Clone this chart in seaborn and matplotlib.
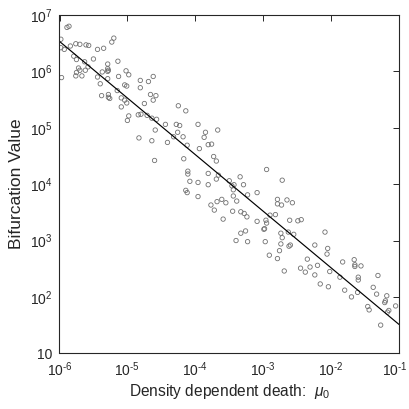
import numpy as np
import pandas as pd
import matplotlib
matplotlib.use("Agg")
import matplotlib.pyplot as plt
import matplotlib.transforms as mtransforms
import seaborn as sns
from matplotlib.ticker import FixedLocator, FuncFormatter, NullLocator

# log10 of density dependent death (mu_0)
log_mu = [
    -5.89, -5.86, -5.98, -5.98, -5.93, -5.97, -5.84, -5.76, -5.70, -5.61, -5.57,
    -5.79, -5.75, -5.63, -5.58, -5.75, -5.72, -5.70, -5.67, -5.62, -5.76,
    -5.50, -5.44, -5.35, -5.23, -5.20, -5.14, -5.29, -5.29, -5.28, -5.29,
    -5.37, -5.44, -5.40, -5.29, -5.38, -5.28, -5.28, -5.26, -5.13, -5.02,
    -4.98, -5.04, -5.01, -5.09, -5.09, -5.04, -5.01, -5.15, -4.81, -4.81,
    -4.69, -4.62, -4.66, -4.62, -4.58, -4.75, -4.98, -5.00, -4.84, -4.80,
    -4.71, -4.64, -4.57, -4.44, -4.59, -4.83, -4.64,
    -4.25, -4.14, -4.28, -4.23, -3.96, -4.26, -4.18, -4.32, -3.85, -3.87,
    -3.67, -4.41, -4.12, -3.94, -3.81, -3.76, -4.60, -4.17, -3.73, -3.69,
    -4.11, -4.11, -3.81, -3.66, -3.69, -4.08, -3.96, -3.81, -3.50, -3.46,
    -3.43, -3.44, -3.34, -3.29, -2.95, -4.14, -4.12, -3.96,
    -3.77, -3.72, -3.68, -3.61, -3.55, -3.59, -3.44, -3.39, -3.23, -3.09,
    -2.72, -3.45, -3.33, -3.28, -3.24, -3.09, -2.96, -2.95, -2.99, -2.98,
    -2.90, -2.82, -2.79, -2.79, -2.73, -2.65, -2.57, -2.61, -2.49, -2.44,
    -3.26, -3.33, -3.40, -3.23, -2.97, -2.74, -2.72, -2.63, -2.55, -2.74,
    -2.76, -2.62, -2.60, -2.91, -2.79, -2.69,
    -2.09, -2.24, -2.05, -2.06, -2.35, -2.20, -2.31, -2.38, -2.45, -2.24,
    -2.02, -2.16, -2.04, -1.87, -1.83, -1.66, -1.65, -1.65, -1.56, -1.60,
    -1.60, -1.80, -1.70, -1.61, -1.38, -1.31, -1.33, -1.46, -1.44, -1.18,
    -1.20, -1.21, -1.15, -1.17, -1.05, -1.27,
]

# log10 of bifurcation value
log_bif = [
    6.78, 6.80, 6.57, 6.42, 6.39, 5.89, 6.45, 6.49, 6.48, 6.47, 6.46,
    6.27, 6.21, 6.17, 6.08, 5.98, 6.06, 6.02, 5.92, 6.02, 5.92,
    6.22, 6.39, 6.41, 6.52, 6.59, 6.18, 6.13, 6.05, 6.02, 6.00,
    5.99, 5.90, 5.78, 5.87, 5.57, 5.59, 5.54, 5.52, 5.91, 6.01,
    5.94, 5.76, 5.74, 5.53, 5.37, 5.49, 5.44, 5.66, 5.84, 5.71,
    5.82, 5.91, 5.59, 5.49, 5.57, 5.43, 5.21, 5.13, 5.23, 5.24,
    5.22, 5.17, 5.15, 5.06, 4.96, 4.82, 4.77,
    5.39, 5.30, 5.06, 5.04, 5.06, 4.92, 4.84, 4.84, 4.92, 4.83,
    4.96, 4.74, 4.69, 4.63, 4.70, 4.71, 4.42, 4.45, 4.49, 4.41,
    4.23, 4.18, 4.19, 4.16, 4.09, 4.05, 4.03, 3.99, 4.06, 3.97,
    3.99, 3.90, 4.13, 3.99, 4.26, 3.89, 3.85, 3.78,
    3.63, 3.54, 3.69, 3.73, 3.67, 3.38, 3.79, 3.70, 3.81, 3.85,
    4.07, 3.52, 3.51, 3.48, 3.42, 3.34, 3.36, 3.31, 3.20, 3.21,
    3.45, 3.46, 3.73, 3.65, 3.63, 3.72, 3.67, 3.36, 3.35, 3.37,
    3.17, 3.13, 3.00, 2.98, 2.98, 3.13, 3.05, 3.15, 3.11, 2.94,
    2.82, 2.90, 2.92, 2.74, 2.68, 2.46,
    3.15, 2.92, 2.86, 2.76, 2.67, 2.56, 2.53, 2.44, 2.51, 2.39,
    2.45, 2.23, 2.18, 2.35, 2.62, 2.66, 2.57, 2.54, 2.55, 2.35,
    2.30, 2.12, 2.00, 2.08, 2.17, 2.38, 2.05, 1.83, 1.77, 2.02,
    1.93, 1.90, 1.76, 1.73, 1.84, 1.50,
]

# fitted line end points
fit_mu = [1e-6, 1e-1]
fit_bif = [3.4e6, 32.5]

x_ticks = [1e-6, 1e-5, 1e-4, 1e-3, 1e-2, 1e-1]
y_ticks = [1e1, 1e2, 1e3, 1e4, 1e5, 1e6, 1e7]

df = pd.DataFrame({"mu": 10.0 ** np.array(log_mu), "bif": 10.0 ** np.array(log_bif)})
fit = pd.DataFrame({"mu": fit_mu, "bif": fit_bif})

sns.set_theme(style="white")
plt.rcParams["font.family"] = ["Liberation Sans", "DejaVu Sans"]
plt.rcParams["mathtext.fontset"] = "custom"
plt.rcParams["mathtext.rm"] = "Liberation Sans"
plt.rcParams["mathtext.it"] = "Liberation Sans:italic"
plt.rcParams["mathtext.default"] = "regular"

dark = "#262626"
fig = plt.figure(figsize=(4.10, 4.09), dpi=100)
ax = fig.add_axes([59.5 / 410, (409 - 353.3) / 409, 339.5 / 410, 338.3 / 409])

sns.scatterplot(data=df, x="mu", y="bif", ax=ax, marker="o", s=10,
                facecolors="none", edgecolor="#707070", linewidth=0.6, legend=False)
sns.lineplot(data=fit, x="mu", y="bif", ax=ax, color="black", linewidth=0.85)

ax.set_xscale("log")
ax.set_yscale("log")
ax.set_xlim(1e-6, 1e-1)
ax.set_ylim(10, 1e7)

ax.xaxis.set_major_locator(FixedLocator(x_ticks))
ax.yaxis.set_major_locator(FixedLocator(y_ticks))
ax.xaxis.set_minor_locator(NullLocator())
ax.yaxis.set_minor_locator(NullLocator())


def fmt(v, pos):
    e = int(round(np.log10(v)))
    if e == 1:
        return "10"
    if e < 0:
        return r"$10^{\text{-}%d}$" % (-e)
    return r"$10^{%d}$" % e


ax.xaxis.set_major_formatter(FuncFormatter(fmt))
ax.yaxis.set_major_formatter(FuncFormatter(fmt))

ax.tick_params(axis="both", which="major", direction="in", length=4, width=0.7,
               top=True, right=True, colors=dark, labelsize=10, pad=5)
for sp in ax.spines.values():
    sp.set_visible(True)
    sp.set_color(dark)
    sp.set_linewidth(0.8)

ax.set_xlabel(r"Density dependent death:  $\mathit{\mu}_0$", fontsize=11.2, color=dark, labelpad=2)
ax.set_ylabel("Bifurcation Value", fontsize=12.5, color=dark, labelpad=4)

# keep the right-most x tick label inside the figure
fig.canvas.draw()
last = ax.get_xticklabels()[-1]
last.set_transform(last.get_transform() + mtransforms.ScaledTranslation(-4 / 100, 0, fig.dpi_scale_trans))

fig.savefig("out.png", dpi=100)
